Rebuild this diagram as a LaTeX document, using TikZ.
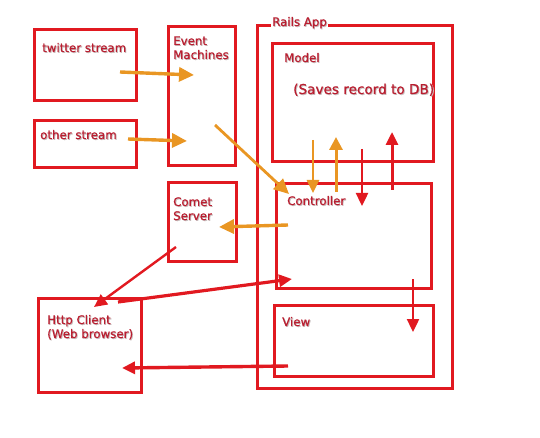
\documentclass[tikz,border=0pt]{standalone}
\usepackage{fontspec}
\setmainfont{DejaVu Sans}[FakeBold=0.6]
\usetikzlibrary{arrows.meta}
\definecolor{boxred}{RGB}{225,25,32}
\definecolor{arrorange}{RGB}{233,150,35}
\definecolor{txtred}{RGB}{185,30,48}
\definecolor{shadowgray}{RGB}{200,190,190}
\newcommand\shtxt[1]{\leavevmode\rlap{\raisebox{-0.9pt}{\hspace{0.9pt}\textcolor{shadowgray}{#1}}}#1}
\tikzset{
  box/.style={draw=boxred, line width=3pt, rectangle, inner sep=0pt, anchor=north west},
  lbl/.style={text=txtred, font=\fontsize{11.8}{14}\selectfont, anchor=base west, inner sep=0pt, align=left},
  oarr/.style={draw=arrorange, line width=3.4pt, -{Triangle[length=15pt,width=14pt]}},
  rarr/.style={draw=boxred, line width=3pt, -{Triangle[length=13pt,width=12pt]}},
}
\begin{document}
\begin{tikzpicture}[x=1pt,y=-1pt]
\useasboundingbox (0,0) rectangle (540,438);
% boxes
\node[box, minimum width=102pt, minimum height=71pt] (tw) at (33,28) {};
\node[box, minimum width=102pt, minimum height=47pt] (ot) at (33,119) {};
\node[box, minimum width=67pt, minimum height=139pt] (em) at (167,25) {};
\node[box, minimum width=68pt, minimum height=79pt] (cs) at (167,181) {};
\node[box, minimum width=195pt, minimum height=363pt] (ra) at (256,24) {};
\node[box, minimum width=161pt, minimum height=118pt] (mo) at (271,42) {};
\node[box, minimum width=155pt, minimum height=105pt] (co) at (275,182) {};
\node[box, minimum width=159pt, minimum height=71pt] (vi) at (273,304) {};
\node[box, minimum width=103pt, minimum height=94pt] (hc) at (37,297) {};
% labels
\node[lbl] (ltw) at (42,52) {\shtxt{twitter stream}};
\node[lbl] (lot) at (40,139) {\shtxt{other stream}};
\node[lbl] (lem) at (173,59) {\shtxt{Event}\\\shtxt{Machines}};
\node[lbl] (lcs) at (173,220) {\shtxt{Comet}\\\shtxt{Server}};
\node[lbl, fill=white, inner xsep=1pt, inner ysep=2pt] (lra) at (271,26) {\shtxt{Rails App}};
\node[lbl] (lmo) at (284,62) {\shtxt{Model}};
\node[lbl, font=\fontsize{13.6}{16}\selectfont] (lsv) at (293,94) {\shtxt{(Saves record to DB)}};
\node[lbl] (lco) at (287,205) {\shtxt{Controller}};
\node[lbl] (lhc) at (47,338) {\shtxt{Http Client}\\\shtxt{(Web browser)}};
\node[lbl] (lvi) at (282,326) {\shtxt{View}};
% arrow end points
\coordinate (a1s) at (120,72);  \coordinate (a1e) at (194,75);
\coordinate (a2s) at (128,139); \coordinate (a2e) at (187,141);
\coordinate (a3s) at (215,125); \coordinate (a3e) at (289,194);
\coordinate (a4s) at (288,225); \coordinate (a4e) at (219,227);
\coordinate (a5s) at (313,140); \coordinate (a5e) at (313,193);
\coordinate (a6s) at (336,192); \coordinate (a6e) at (336,137);
\coordinate (a7s) at (362,149); \coordinate (a7e) at (362,206);
\coordinate (a8s) at (392,190); \coordinate (a8e) at (392,132);
\coordinate (a9s) at (413,279); \coordinate (a9e) at (413,332);
\coordinate (b1s) at (176,247); \coordinate (b1e) at (94,307);
\coordinate (b2s) at (118,302); \coordinate (b2e) at (292,279);
\coordinate (b3s) at (288,366); \coordinate (b3e) at (122,368);
% orange arrows
\draw[oarr] (a1s) -- (a1e);
\draw[oarr] (a2s) -- (a2e);
\draw[oarr, line width=2.8pt] (a3s) -- (a3e);
\draw[oarr] (a4s) -- (a4e);
\draw[oarr, line width=2.8pt, -{Triangle[length=13pt,width=12pt]}] (a5s) -- (a5e);
\draw[oarr, line width=3pt, -{Triangle[length=13pt,width=13pt]}] (a6s) -- (a6e);
% red arrows
\draw[rarr, line width=2.4pt] (a7s) -- (a7e);
\draw[rarr] (a8s) -- (a8e);
\draw[rarr, line width=2.4pt] (a9s) -- (a9e);
\draw[rarr, line width=2.4pt] (b1s) -- (b1e);
\draw[rarr, line width=3.2pt] (b2s) -- (b2e);
\draw[rarr, line width=3.4pt] (b3s) -- (b3e);
\end{tikzpicture}
\end{document}
